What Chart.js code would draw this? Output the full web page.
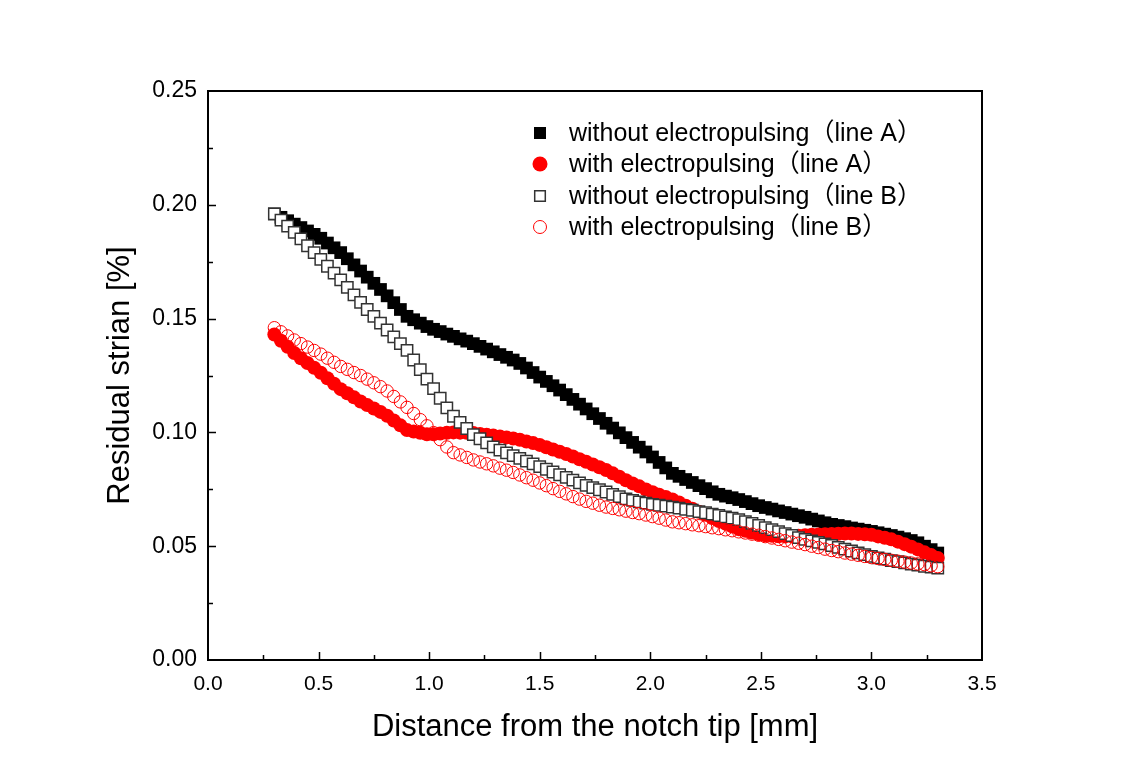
<!DOCTYPE html>
<html><head><meta charset="utf-8">
<script src="https://cdn.jsdelivr.net/npm/chart.js@4.4.0/dist/chart.umd.min.js"></script>
<style>html,body{margin:0;padding:0;background:#fff}#wrap{width:1132px;height:784px}</style>
</head><body><div id="wrap"><canvas id="c" width="1132" height="784"></canvas></div>
<script>
const distance = [0.30,0.33,0.36,0.39,0.42,0.45,0.48,0.51,0.54,0.57,
0.60,0.63,0.66,0.69,0.72,0.75,0.78,0.81,0.84,0.87,
0.90,0.93,0.96,0.99,1.02,1.05,1.08,1.11,1.14,1.17,
1.20,1.23,1.26,1.29,1.32,1.35,1.38,1.41,1.44,1.47,
1.50,1.53,1.56,1.59,1.62,1.65,1.68,1.71,1.74,1.77,
1.80,1.83,1.86,1.89,1.92,1.95,1.98,2.01,2.04,2.07,
2.10,2.13,2.16,2.19,2.22,2.25,2.28,2.31,2.34,2.37,
2.40,2.43,2.46,2.49,2.52,2.55,2.58,2.61,2.64,2.67,
2.70,2.73,2.76,2.79,2.82,2.85,2.88,2.91,2.94,2.97,
3.00,3.03,3.06,3.09,3.12,3.15,3.18,3.21,3.24,3.27,
3.30];

const withoutA = [.196,.1945,.193,.1915,.190,.1885,.187,.1853,.1832,.1811,
.179,.1763,.1736,.1709,.1682,.1655,.1628,.160,.157,.154,
.151,.1495,.148,.1465,.1453,.1443,.1432,.1422,.1411,.1401,
.139,.1378,.1366,.1354,.1342,.133,.1318,.1303,.1283,.1263,
.1243,.1224,.1205,.1186,.1166,.1145,.1124,.1103,.1082,.1061,
.104,.1019,.0998,.0977,.0956,.0935,.0914,.0892,.0868,.0844,
.082,.0807,.0793,.078,.0766,.0753,.0739,.0728,.072,.0713,
.0705,.0696,.0687,.0678,.067,.0663,.0655,.0648,.0641,.0634,
.0627,.0619,.0611,.0603,.0596,.0591,.0586,.058,.0575,.057,
.0565,.0559,.0553,.0547,.054,.0533,.0525,.0515,.05,.0485,
.047];

const withA = [.143,.1403,.1376,.1349,.1326,.1305,.1284,.1262,.1238,.1214,
.119,.1172,.1154,.1136,.112,.1105,.109,.1073,.1052,.1031,
.101,.1004,.0998,.0992,.0992,.0995,.0998,.100,.0999,.0998,
.0997,.0993,.099,.0986,.0982,.0978,.0973,.0968,.096,.0953,
.0945,.0935,.0925,.0915,.0905,.0894,.0882,.0871,.0859,.0847,
.0835,.082,.0805,.079,.0776,.0763,.0749,.0737,.0726,.0716,
.0705,.0692,.0678,.0665,.0651,.0638,.0624,.0611,.0599,.0587,
.0575,.0568,.056,.0553,.0548,.0546,.0544,.0543,.0544,.0546,
.0548,.055,.0551,.0553,.0554,.0555,.0556,.0556,.0554,.0552,
.055,.0543,.0537,.053,.052,.0509,.0498,.0486,.0473,.0461,
.0448];

const withoutB = [.196,.1933,.1906,.1879,.185,.182,.179,.176,.173,.170,
.167,.1637,.1604,.1571,.154,.151,.148,.145,.142,.139,
.136,.1318,.1276,.1234,.1192,.115,.1108,.1071,.1044,.1017,
.099,.0972,.0954,.0936,.0922,.091,.0898,.0886,.0874,.0862,
.085,.0838,.0826,.0814,.0802,.079,.0778,.0767,.0757,.0748,
.0738,.0728,.0718,.0708,.0701,.0695,.0689,.0684,.068,.0676,
.0672,.0667,.0662,.0658,.0652,.0647,.0641,.0635,.0629,.0623,
.0617,.0608,.060,.0591,.0582,.0573,.0564,.0555,.0547,.0538,
.053,.0523,.0517,.051,.0503,.0495,.0487,.0479,.0471,.0463,
.0455,.0449,.0443,.0437,.0432,.0427,.0421,.0417,.0412,.0408,
.0404];

const withB = [.146,.1442,.1424,.1406,.139,.1375,.136,.1344,.1326,.1308,
.129,.1277,.1263,.125,.1234,.1218,.1201,.1182,.1158,.1134,
.111,.1083,.1056,.1029,.0999,.0968,.0936,.0911,.0901,.089,
.0879,.087,.0862,.0853,.0843,.0834,.0824,.0813,.0801,.079,
.0778,.0766,.0753,.0741,.073,.0718,.0707,.0697,.0689,.068,
.0672,.0666,.066,.0654,.0648,.0643,.0637,.063,.0623,.0615,
.0607,.0603,.0599,.0594,.059,.0586,.0581,.0577,.0572,.0568,
.0563,.0558,.0553,.0548,.0542,.0536,.053,.0524,.0518,.0513,
.0507,.05,.0494,.0487,.0481,.0476,.047,.0465,.046,.0455,
.045,.0446,.0442,.0438,.0434,.043,.0426,.0422,.0419,.0414,
.041];

const seriesLabels = ['without electropulsing（line A）','with electropulsing（line A）','without electropulsing（line B）','with electropulsing（line B）'];
const xTickLabels = ['0.0','0.5','1.0','1.5','2.0','2.5','3.0','3.5'];
const yTickLabels = ['0.00','0.05','0.10','0.15','0.20','0.25'];

const toPts = arr => arr.map((v,i)=>({x:distance[i], y:v}));

const datasets = [
  {label:seriesLabels[0], data:toPts(withoutA), pointStyle:'rect', pointRadius:9, backgroundColor:'#000', borderColor:'#000', borderWidth:0, order:4, legendSize:6},
  {label:seriesLabels[1], data:toPts(withA), pointStyle:'circle', pointRadius:7, backgroundColor:'#ff0000', borderColor:'#ff0000', borderWidth:0, order:3, legendSize:7.5},
  {label:seriesLabels[2], data:toPts(withoutB), pointStyle:'rect', pointRadius:8, backgroundColor:'#fff', borderColor:'#333', borderWidth:1.5, order:2, legendSize:5.3},
  {label:seriesLabels[3], data:toPts(withB), pointStyle:'circle', pointRadius:6.2, backgroundColor:'rgba(0,0,0,0)', borderColor:'#ff0000', borderWidth:1, order:1, legendSize:6.5}
];
datasets.forEach(d=>{ d.showLine=false; d.pointHoverRadius=d.pointRadius; });

const framePlugin = {
  id:'frame',
  afterDatasetsDraw(chart){
    const ctx = chart.ctx, a = chart.chartArea;
    const xs = chart.scales.x, ys = chart.scales.y;
    ctx.save();
    ctx.strokeStyle='#000';
    ctx.lineWidth=1.5;
    ctx.beginPath();
    for(let i=1;i<14;i++){
      const v=i*0.25; const px=Math.round(xs.getPixelForValue(v))+0.5;
      const len = (i%2===0)?8:5;
      ctx.moveTo(px,a.bottom); ctx.lineTo(px,a.bottom-len);
    }
    for(let i=1;i<10;i++){
      const v=i*0.025; const py=Math.round(ys.getPixelForValue(v))+0.5;
      const len = (i%2===0)?8:5;
      ctx.moveTo(a.left,py); ctx.lineTo(a.left+len,py);
    }
    ctx.stroke();
    ctx.lineWidth=2;
    ctx.strokeRect(a.left, a.top, a.right-a.left, a.bottom-a.top);
    ctx.restore();
  },
  afterDraw(chart){
    const ctx = chart.ctx;
    ctx.save();
    const mx=540, tx=569, rows=[133,164,196,227];
    chart.data.datasets.forEach((d,i)=>{
      const y=rows[i];
      const s=d.legendSize;
      ctx.beginPath();
      if(d.pointStyle==='rect'){
        ctx.rect(mx-s,y-s,2*s,2*s);
      } else {
        ctx.arc(mx,y,s,0,Math.PI*2);
      }
      ctx.fillStyle=d.backgroundColor; ctx.fill();
      if(d.borderWidth>0){ctx.lineWidth=d.borderWidth; ctx.strokeStyle=d.borderColor; ctx.stroke();}
      ctx.fillStyle='#000';
      ctx.font='25px "Liberation Sans", Arial, "Noto Sans CJK SC", sans-serif';
      ctx.textBaseline='middle'; ctx.textAlign='left';
      ctx.fillText(d.label, tx, y+1);
    });
    ctx.restore();
  }
};

new Chart(document.getElementById('c'), {
  type:'scatter',
  data:{datasets},
  options:{
    responsive:false, animation:false, devicePixelRatio:1,
    layout:{padding:{left:90, right:150, top:91, bottom:34}},
    plugins:{legend:{display:false}, tooltip:{enabled:false}},
    scales:{
      x:{type:'linear', min:0, max:3.5,
        afterFit:s=>{s.height=90;},
        grid:{display:false, drawTicks:false}, border:{display:false},
        ticks:{stepSize:0.5, padding:12, color:'#000', font:{family:'"Liberation Sans", Arial, sans-serif', size:21},
          callback:(v)=>{const i=Math.round(v/0.5); return Math.abs(v-i*0.5)<1e-9 ? xTickLabels[i] : '';}},
        title:{display:true, text:'Distance from the notch tip [mm]', color:'#000', font:{family:'"Liberation Sans", Arial, sans-serif', size:31}, padding:{top:0,bottom:4}}
      },
      y:{type:'linear', min:0, max:0.25,
        afterFit:s=>{s.width=118;},
        grid:{display:false, drawTicks:false}, border:{display:false},
        ticks:{stepSize:0.05, padding:11, color:'#000', font:{family:'"Liberation Sans", Arial, sans-serif', size:23},
          callback:(v)=>{const i=Math.round(v/0.05); return Math.abs(v-i*0.05)<1e-9 ? yTickLabels[i] : '';}},
        title:{display:true, text:'Residual strian [%]', color:'#000', font:{family:'"Liberation Sans", Arial, sans-serif', size:31}, padding:{top:12,bottom:0}}
      }
    }
  },
  plugins:[framePlugin]
});
</script></body></html>
